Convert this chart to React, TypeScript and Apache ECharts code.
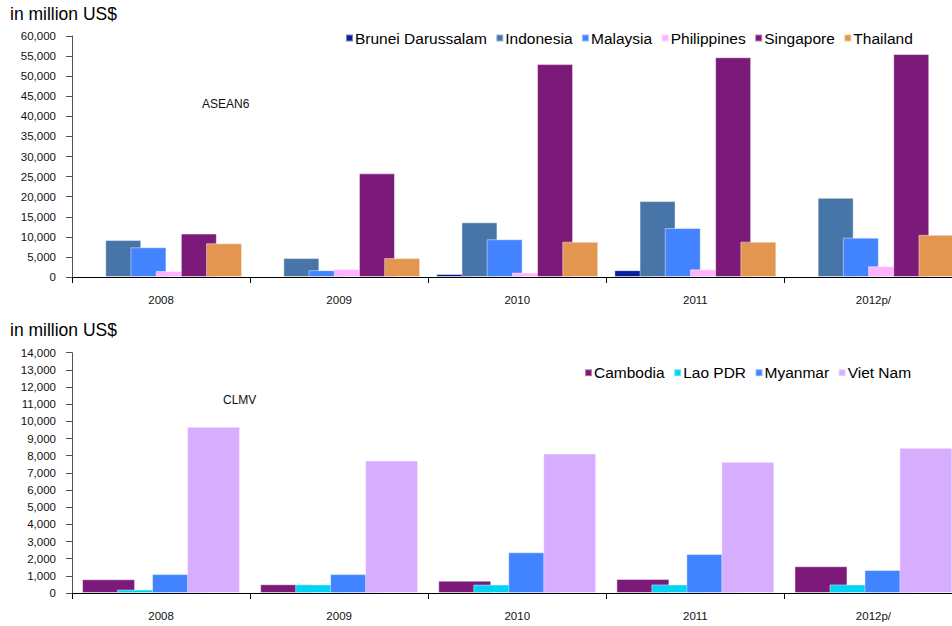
import React, { useEffect, useRef } from "react";
import * as echarts from "echarts";

const years = ["2008", "2009", "2010", "2011", "2012p/"];

// ASEAN6 (million US$)
const brunei = [null, null, 750, 1700, null];
const indonesia = [9200, 4700, 13600, 18900, 19700];
const malaysia = [7400, 1700, 9400, 12200, 9800];
const philippines = [1500, 2000, 1100, 1900, 2700];
const singapore = [10800, 25800, 53000, 54700, 55500];
const thailand = [8400, 4700, 8800, 8800, 10500];

// CLMV (million US$)
const cambodia = [800, 510, 720, 820, 1560];
const lao = [200, 500, 490, 500, 500];
const myanmar = [1100, 1100, 2370, 2270, 1340];
const vietnam = [9680, 7720, 8130, 7640, 8460];

const topNames = ["Brunei Darussalam", "Indonesia", "Malaysia", "Philippines", "Singapore", "Thailand"];
const topData = [brunei, indonesia, malaysia, philippines, singapore, thailand];
const topColors = ["#0a1f9c", "#4775a8", "#4283ff", "#ffb3ff", "#7b1a78", "#e2964f"];

const botNames = ["Cambodia", "Lao PDR", "Myanmar", "Viet Nam"];
const botData = [cambodia, lao, myanmar, vietnam];
const botColors = ["#7b1a78", "#00d4f6", "#4283ff", "#d7aeff"];

const FONT = "'Liberation Sans', Arial, sans-serif";

export default function App() {
  const ref = useRef<HTMLDivElement>(null);
  useEffect(() => {
    if (!ref.current) return;
    const chart = echarts.init(ref.current, null, { renderer: "svg" });
    const fmt = (v: number) => v.toLocaleString("en-US");
    const xAxisBase = (gridIndex: number) => ({
      type: "category" as const,
      gridIndex,
      data: years,
      axisLine: { lineStyle: { color: "#000", width: 1 } },
      axisTick: { show: true, length: 6, lineStyle: { color: "#000", width: 1 } },
      axisLabel: { color: "#111", fontSize: 11.5, fontFamily: FONT, margin: 17 },
    });
    const yAxisBase = (gridIndex: number, max: number, interval: number) => ({
      type: "value" as const,
      gridIndex,
      min: 0,
      max,
      interval,
      splitLine: { show: false },
      axisLine: { show: true, lineStyle: { color: "#555" } },
      axisTick: { show: true, length: 6, lineStyle: { color: "#555" } },
      axisLabel: { color: "#111", fontSize: 11.5, fontFamily: FONT, margin: 16, formatter: fmt },
    });
    const series: any[] = [];
    topNames.forEach((n, i) => {
      series.push({
        name: n,
        type: "bar",
        xAxisIndex: 0,
        yAxisIndex: 0,
        data: topData[i],
        barWidth: 36,
        barGap: "-30%",
        itemStyle: { color: topColors[i], borderColor: "rgba(255,255,255,0.45)", borderWidth: 1 },
      });
    });
    botNames.forEach((n, i) => {
      series.push({
        name: n,
        type: "bar",
        xAxisIndex: 1,
        yAxisIndex: 1,
        data: botData[i],
        barWidth: 53,
        barGap: "-34%",
        itemStyle: { color: botColors[i], borderColor: "rgba(255,255,255,0.45)", borderWidth: 1 },
      });
    });
    const legendBase = {
      orient: "horizontal" as const,
      icon: "rect",
      itemWidth: 7,
      itemHeight: 7,
      itemGap: 8.5,
      padding: 0,
      textStyle: { fontSize: 15.5, fontFamily: FONT, color: "#000", lineHeight: 16, padding: [0, 0, 0, -3] },
    };
    chart.setOption({
      animation: false,
      backgroundColor: "#fff",
      grid: [
        { left: 72, top: 36, width: 890.5, height: 241 },
        { left: 72, top: 352.7, width: 890.5, height: 240.3 },
      ],
      xAxis: [xAxisBase(0), xAxisBase(1)],
      yAxis: [yAxisBase(0, 60000, 5000), yAxisBase(1, 14000, 1000)],
      legend: [
        { ...legendBase, data: topNames, left: 345, top: 30 },
        { ...legendBase, data: botNames, left: 584, top: 364.7 },
      ],
      graphic: [
        { type: "text", left: 10, top: 5, style: { text: "in million US$", font: `17.5px ${FONT}`, fill: "#000" } },
        { type: "text", left: 10, top: 321, style: { text: "in million US$", font: `17.5px ${FONT}`, fill: "#000" } },
        { type: "text", left: 202, top: 98, style: { text: "ASEAN6", font: `12px 'Liberation Sans Narrow', ${FONT}`, fill: "#111" } },
        { type: "text", left: 223, top: 394, style: { text: "CLMV", font: `12px 'Liberation Sans Narrow', ${FONT}`, fill: "#111" } },
      ],
      series,
    });
    return () => chart.dispose();
  }, []);
  return (
    <div style={{ position: "absolute", left: 0, top: 0, width: 952, height: 626, overflow: "hidden", background: "#fff" }}>
      <div ref={ref} style={{ position: "absolute", left: 0, top: 0, width: 964, height: 626 }} />
    </div>
  );
}
